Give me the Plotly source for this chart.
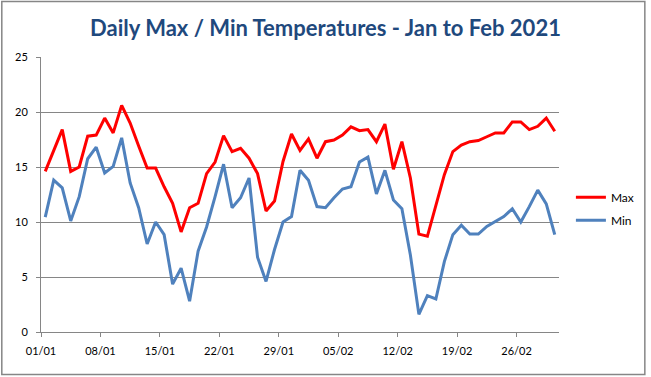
import pandas as pd
import plotly.graph_objects as go

# ---- data ----
dates = pd.date_range("2021-01-01", periods=61, freq="D")
max_temps = [14.6, 16.5, 18.4, 14.6, 15.0, 17.8, 17.9, 19.45, 18.1, 20.6,
             19.0, 16.9, 14.9, 14.9, 13.2, 11.7, 9.1, 11.3, 11.7, 14.4,
             15.45, 17.85, 16.4, 16.7, 15.8, 14.4, 11.0, 11.9, 15.5, 18.0,
             16.5, 17.55, 15.8, 17.3, 17.45, 17.9, 18.65, 18.3, 18.4, 17.3,
             18.9, 14.8, 17.3, 14.0, 8.9, 8.7, 11.5, 14.3, 16.4, 17.0,
             17.3, 17.4, 17.75, 18.1, 18.1, 19.1, 19.1, 18.4, 18.7, 19.45,
             18.25]
min_temps = [10.45, 13.8, 13.1, 10.1, 12.3, 15.75, 16.8, 14.45, 15.05, 17.65,
             13.55, 11.3, 8.0, 10.0, 8.85, 4.35, 5.8, 2.8, 7.35, 9.55,
             12.3, 15.25, 11.3, 12.2, 14.0, 6.8, 4.6, 7.5, 10.0, 10.5,
             14.7, 13.8, 11.4, 11.3, 12.2, 13.0, 13.2, 15.45, 15.9, 12.55,
             14.7, 12.0, 11.2, 7.0, 1.6, 3.3, 3.0, 6.4, 8.85, 9.7,
             8.9, 8.9, 9.6, 10.05, 10.5, 11.2, 10.0, 11.4, 12.9, 11.65,
             8.85]
tick_dates = pd.date_range("2021-01-01", "2021-02-26", freq="7D")
y_ticks = [0, 5, 10, 15, 20, 25]

# ---- layout constants ----
W, H = 651, 377
L, R, T, B = 41, 88, 57, 45
PW, PH = W - L - R, H - T - B

# points sit in the middle of each day (Excel "between tick marks" style)
x_pos = dates + pd.Timedelta(hours=12)

fig = go.Figure()
fig.add_trace(go.Scatter(x=x_pos, y=max_temps, mode="lines", name="Max",
                         legendgroup="a",
                         line=dict(color="#FF0000", width=3)))
fig.add_trace(go.Scatter(x=x_pos, y=min_temps, mode="lines", name="Min",
                         legendgroup="b",
                         line=dict(color="#4F81BD", width=3)))

font_family = "Lato, 'Open Sans', sans-serif"

fig.update_layout(
    width=W, height=H,
    margin=dict(l=L, r=R, t=T, b=B, pad=0),
    paper_bgcolor="white", plot_bgcolor="white",
    title=dict(text="<b>Daily Max / Min Temperatures - Jan to Feb 2021</b>",
               x=0.5, xanchor="center", y=1 - 28 / H, yanchor="middle",
               font=dict(family=font_family, size=22, color="#1F497D")),
    legend=dict(x=(575 - L) / PW, xanchor="left",
                y=(332.3 - 209) / PH, yanchor="middle",
                font=dict(family=font_family, size=12, color="#000000"),
                tracegroupgap=4, traceorder="grouped",
                bgcolor="rgba(0,0,0,0)"),
    showlegend=True,
    font=dict(family=font_family, size=11, color="#000000"),
)

fig.update_xaxes(
    type="date",
    range=[pd.Timestamp("2021-01-01"), pd.Timestamp("2021-03-03")],
    tickvals=tick_dates, tickformat="%d/%m",
    ticks="outside", ticklen=4, tickcolor="#868686", tickwidth=1,
    ticklabelstandoff=5,
    showgrid=False, showline=True, linecolor="#868686", linewidth=1,
    zeroline=False,
    tickfont=dict(family=font_family, size=11, color="#000000"),
)
fig.update_yaxes(
    range=[0, 25], tickvals=y_ticks,
    ticks="outside", ticklen=4, tickcolor="#868686", tickwidth=1,
    ticklabelstandoff=6,
    showgrid=True, gridcolor="#868686", gridwidth=1,
    showline=True, linecolor="#868686", linewidth=1,
    zeroline=False,
    tickfont=dict(family=font_family, size=11, color="#000000"),
)

# outer chart border
fig.add_shape(type="rect", xref="paper", yref="paper",
              x0=(1.5 - L) / PW, x1=(649.5 - L) / PW,
              y0=-(374.5 - (H - B)) / PH, y1=1 + (T - 1.5) / PH,
              line=dict(color="#868686", width=1.5), fillcolor="rgba(0,0,0,0)",
              layer="above")

fig.write_html(
    "out.html",
    config={"displayModeBar": False},
    post_script="document.body.style.margin='0';document.body.style.overflow='hidden';",
)
